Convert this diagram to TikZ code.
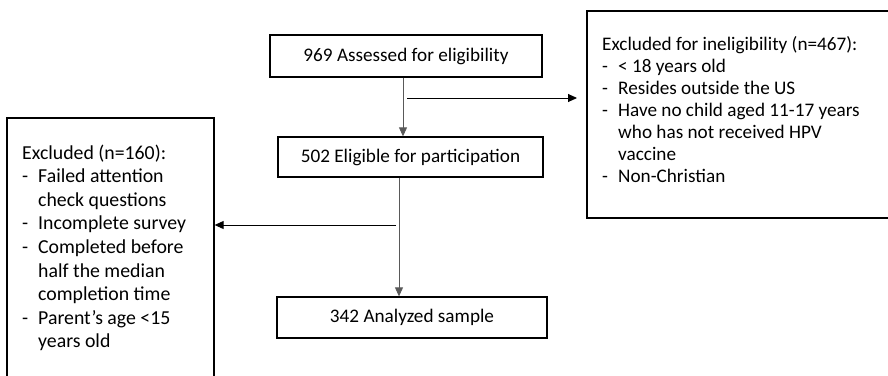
\documentclass[tikz,border=0pt]{standalone}
\usepackage{fontspec}
\setmainfont{Carlito}
\usetikzlibrary{arrows.meta}
\newcommand{\dsh}{\makebox[16pt][l]{-}}
\newcommand{\ind}{\hspace*{16pt}}
\begin{document}
\begin{tikzpicture}[x=1pt,y=-1pt,
  box/.style={draw=black,line width=1.3pt,rectangle,inner sep=0pt,font=\fontsize{19.2}{22}\selectfont},
  conn/.style={draw=black,line width=0.9pt},
  arr/.style={conn,-{Triangle[length=9pt,width=8pt]}},
  varr/.style={arr,draw=black!65},
  txt/.style={inner sep=0pt,anchor=base west}]
\useasboundingbox (0,0) rectangle (888,375);
\begin{scope}
\clip (0,0) rectangle (888,375);
\node[box,minimum width=272pt,minimum height=42pt] (b1) at (406,56) {969 Assessed for eligibility};
\node[box,minimum width=265pt,minimum height=40pt] (b2) at (410.5,157) {502 Eligible for participation};
\node[box,minimum width=270pt,minimum height=41pt] (b3) at (412,317.5) {342 Analyzed sample};
\node[box,minimum width=310pt,minimum height=207pt] (rb) at (742,114.5) {};
\node[box,minimum width=207pt,minimum height=270pt] (lb) at (110.5,253) {};
\node[txt,font=\fontsize{19.2}{22}\selectfont] (rt) at (602,50) {\begin{tabular}[t]{@{}l@{}}Excluded for ineligibility (n=467):\\
\dsh{}< 18 years old\\
\dsh{}Resides outside the US\\
\dsh{}Have no child aged 11-17 years\\
\ind{}who has not received HPV\\
\ind{}vaccine\\
\dsh{}Non-Christian\end{tabular}};
\node[txt,font=\fontsize{19.8}{23.6}\selectfont] (lt) at (22,159) {\begin{tabular}[t]{@{}l@{}}Excluded (n=160):\\
\dsh{}Failed attention\\
\ind{}check questions\\
\dsh{}Incomplete survey\\
\dsh{}Completed before\\
\ind{}half the median\\
\ind{}completion time\\
\dsh{}Parent’s age <15\\
\ind{}years old\end{tabular}};
\coordinate (v1) at (403,0);
\coordinate (v2) at (399,0);
\coordinate (h1s) at (407,98);
\coordinate (h1e) at (577,98);
\coordinate (h2s) at (396,225);
\draw[varr] (b1.south -| v1) -- (b2.north -| v1);
\draw[arr] (h1s) -- (h1e);
\draw[varr] (b2.south -| v2) -- (b3.north -| v2);
\draw[arr] (h2s) -- (lb.east |- h2s);
\end{scope}
\end{tikzpicture}
\end{document}
